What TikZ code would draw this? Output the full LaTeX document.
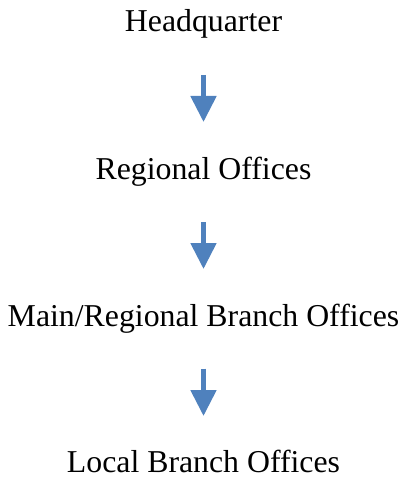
\documentclass[tikz,border=0pt]{standalone}
\usepackage{fontspec}
\setmainfont{Liberation Serif}
\usetikzlibrary{arrows.meta}
\definecolor{arrowblue}{HTML}{4F81BD}
\begin{document}
\begin{tikzpicture}[x=1pt,y=1pt,
  label/.style={anchor=base,inner sep=0pt,font=\fontsize{31.8}{36}\selectfont},
  blockarrow/.style={draw=arrowblue,line width=5pt,-{Triangle[width=25pt,length=26pt]},arrowblue}]
\useasboundingbox (0,0) rectangle (403,-478);
\node[label] (hq) at (203.5,-32) {Headquarter};
\node[label] (reg) at (203.5,-179) {Regional Offices};
\node[label] (main) at (203.5,-326) {Main/Regional Branch Offices};
\node[label] (loc) at (203.5,-472.5) {Local Branch Offices};
\draw[blockarrow] ([yshift=-43pt]hq.base) -- ([yshift=57pt]reg.base);
\draw[blockarrow] ([yshift=-43pt]reg.base) -- ([yshift=57pt]main.base);
\draw[blockarrow] ([yshift=-42.5pt]main.base) -- ([yshift=56.5pt]loc.base);
\end{tikzpicture}
\end{document}
